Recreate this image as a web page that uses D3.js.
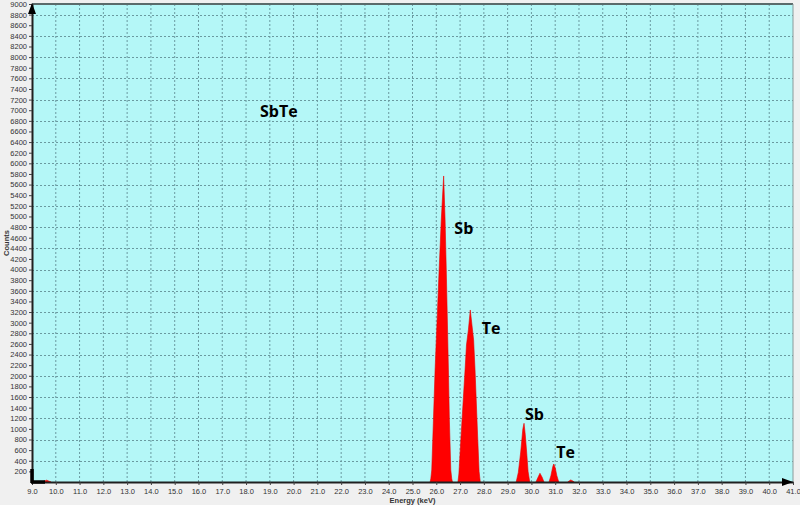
<!DOCTYPE html>
<html>
<head>
<meta charset="utf-8">
<script src="https://cdn.jsdelivr.net/npm/d3@7"></script>
<style>
  html, body { margin: 0; padding: 0; background: #f0f0f0; }
  svg { display: block; }
</style>
</head>
<body>
<svg id="chart" width="800" height="505"></svg>
<script>
// 轴范围
const energyDomain = [9, 41];
const countsDomain = [0, 9000];

// 各峰的点 [keV, counts]
const bumpLow = [[9.42, 0], [9.55, 25], [9.62, 35], [9.72, 15], [9.8, 0]];
const sbKa = [
  [25.74, 0], [25.77, 60], [25.81, 226], [25.88, 1167], [25.95, 2109],
  [26.12, 3992], [26.21, 4933], [26.31, 5762], [26.37, 4933], [26.42, 3992],
  [26.51, 2109], [26.55, 1167], [26.61, 226], [26.65, 60], [26.68, 0]
];
const teKa = [
  [26.91, 0], [26.95, 150], [27.04, 847], [27.21, 2109], [27.27, 2580],
  [27.35, 2862], [27.43, 3239], [27.57, 2674], [27.63, 2109],
  [27.74, 847], [27.8, 200], [27.85, 0]
];
const sbKb = [
  [29.36, 0], [29.45, 180], [29.55, 565], [29.64, 1000], [29.69, 1105],
  [29.74, 900], [29.8, 565], [29.86, 200], [29.93, 0]
];
const sbKb2 = [[30.19, 0], [30.28, 90], [30.36, 164], [30.45, 90], [30.53, 0]];
const teKb = [
  [30.74, 0], [30.82, 120], [30.9, 290], [30.94, 339], [31.0, 270],
  [31.07, 120], [31.15, 0]
];
const teKb2 = [[31.53, 0], [31.6, 25], [31.65, 38], [31.72, 25], [31.8, 0]];

const peaks = [bumpLow, sbKa, teKa, sbKb, sbKb2, teKb, teKb2];

// 标签 [文字, keV, counts]
const peakLabels = [
  ['Sb', 26.76, 4670],
  ['Te', 27.91, 2790],
  ['Sb', 29.73, 1170],
  ['Te', 31.04, 450]
];
const sampleLabel = ['SbTe', 18.59, 6870];

const svg = d3.select('#chart');
const margin = { top: 4, right: 7, bottom: 23, left: 32 };
const width = 800 - margin.left - margin.right;
const height = 505 - margin.top - margin.bottom;

const x = d3.scaleLinear().domain(energyDomain).range([0, width]);
const y = d3.scaleLinear().domain(countsDomain).range([height, 0]);

const g = svg.append('g').attr('transform', `translate(${margin.left},${margin.top})`);

// 绘图区背景
g.append('rect')
  .attr('width', width)
  .attr('height', height)
  .attr('fill', '#b4f7f7');

// 网格线
const xTicks = d3.range(energyDomain[0], energyDomain[1] + 0.01, 1);
const yTicks = d3.range(200, countsDomain[1] + 1, 200);
const yGrid = d3.range(400, countsDomain[1], 400);

g.append('g')
  .selectAll('line')
  .data(xTicks.slice(1, -1))
  .join('line')
  .attr('x1', d => x(d)).attr('x2', d => x(d))
  .attr('y1', 0).attr('y2', height)
  .attr('stroke', '#6a9aa0')
  .attr('stroke-width', 1)
  .attr('stroke-dasharray', '2,2');

g.append('g')
  .selectAll('line')
  .data(yGrid)
  .join('line')
  .attr('x1', 0).attr('x2', width)
  .attr('y1', d => Math.round(y(d)) + 0.5).attr('y2', d => Math.round(y(d)) + 0.5)
  .attr('stroke', '#6a9aa0')
  .attr('stroke-width', 1)
  .attr('stroke-dasharray', '2,2');

// 谱峰
const area = d3.area()
  .x(d => x(d[0]))
  .y0(y(0))
  .y1(d => y(d[1]));

g.append('g')
  .selectAll('path')
  .data(peaks)
  .join('path')
  .attr('d', area)
  .attr('fill', '#ff0000')
  .attr('stroke', '#e80000')
  .attr('stroke-width', 0.6);

// 边框
g.append('line')
  .attr('x1', 0).attr('x2', width).attr('y1', 0).attr('y2', 0)
  .attr('stroke', '#5a6b6b').attr('stroke-width', 2);
g.append('line')
  .attr('x1', width).attr('x2', width).attr('y1', 0).attr('y2', height)
  .attr('stroke', '#8a9a9a').attr('stroke-width', 1);

// 坐标轴
const xAxis = d3.axisBottom(x)
  .tickValues(xTicks)
  .tickFormat(d3.format('.1f'))
  .tickSize(3)
  .tickSizeOuter(0);
const yAxis = d3.axisLeft(y)
  .tickValues(yTicks)
  .tickFormat(d3.format('d'))
  .tickSize(3)
  .tickSizeOuter(0);

const gx = g.append('g').attr('transform', `translate(0,${height})`).call(xAxis);
const gy = g.append('g').call(yAxis);

[gx, gy].forEach(a => {
  a.select('.domain').attr('stroke', '#202020').attr('stroke-width', 2);
  a.selectAll('.tick line').attr('stroke', '#404040');
  a.selectAll('.tick text')
    .attr('fill', '#333')
    .style('font-family', '"Liberation Sans", Arial, sans-serif')
    .style('font-size', '7.5px');
});
gx.selectAll('.tick text').attr('y', 6).attr('dy', '0.8em');
gy.selectAll('.tick text').attr('x', -5);

// 轴端箭头和原点标记
g.append('path')
  .attr('d', `M${-4},${10} L0,${-1} L4,${10} Z`)
  .attr('fill', '#000');
g.append('path')
  .attr('d', `M${width - 11},${height - 4} L${width},${height} L${width - 11},${height + 4} Z`)
  .attr('fill', '#000');
g.append('line')
  .attr('x1', 0).attr('x2', 0).attr('y1', height - 13).attr('y2', height + 1)
  .attr('stroke', '#000').attr('stroke-width', 3.5);
g.append('line')
  .attr('x1', -1).attr('x2', 13).attr('y1', height).attr('y2', height)
  .attr('stroke', '#000').attr('stroke-width', 3.5);

// 轴标题
svg.append('text')
  .attr('x', margin.left + width / 2)
  .attr('y', 503)
  .attr('text-anchor', 'middle')
  .style('font-family', '"Liberation Sans", Arial, sans-serif')
  .style('font-size', '7.5px')
  .style('font-weight', 'bold')
  .attr('fill', '#333')
  .text('Energy (keV)');

svg.append('text')
  .attr('transform', `translate(9,${margin.top + height / 2}) rotate(-90)`)
  .attr('text-anchor', 'middle')
  .style('font-family', '"Liberation Sans", Arial, sans-serif')
  .style('font-size', '7.5px')
  .style('font-weight', 'bold')
  .attr('fill', '#333')
  .text('Counts');

// 峰标签
g.append('g')
  .selectAll('text')
  .data(peakLabels)
  .join('text')
  .attr('x', d => x(d[1]))
  .attr('y', d => y(d[2]))
  .style('font-family', '"Open Sans", sans-serif')
  .style('font-size', '16px')
  .style('font-weight', 'bold')
  .attr('fill', '#000')
  .text(d => d[0]);

g.append('text')
  .attr('x', x(sampleLabel[1]))
  .attr('y', y(sampleLabel[2]))
  .style('font-family', '"Open Sans", sans-serif')
  .style('font-size', '16px')
  .style('font-weight', 'bold')
  .attr('fill', '#000')
  .text(sampleLabel[0]);
</script>
</body>
</html>
